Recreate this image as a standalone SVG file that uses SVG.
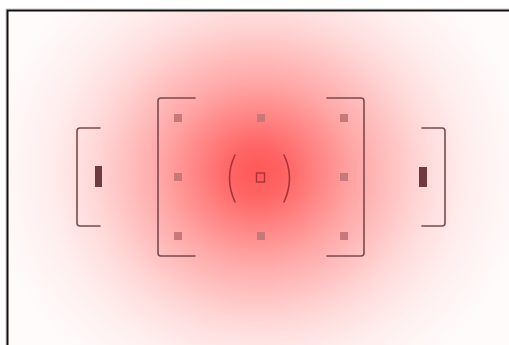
<svg xmlns="http://www.w3.org/2000/svg" width="509" height="345" viewBox="0 0 509 345">
<style>
.br{fill:none;stroke:#7a4a4e;stroke-width:1.6;stroke-linecap:round;stroke-linejoin:round}
.pt{fill:#c77878}
.bar{fill:#6e3c40}
.par{fill:none;stroke:#a8343a;stroke-width:1.6;stroke-linecap:round}
</style>
<defs>
<radialGradient id="glow" gradientUnits="userSpaceOnUse" cx="0" cy="0" r="1" gradientTransform="translate(258 172) scale(268 245)">
<stop offset="0" stop-color="#ff5858"/>
<stop offset="0.1" stop-color="#ff6464"/>
<stop offset="0.29" stop-color="#ff9494"/>
<stop offset="0.37" stop-color="#ffa8a8"/>
<stop offset="0.6" stop-color="#ffd5d5"/>
<stop offset="0.67" stop-color="#ffe0e0"/>
<stop offset="0.8" stop-color="#ffefef"/>
<stop offset="0.95" stop-color="#fff8f8"/>
<stop offset="1" stop-color="#fffbfb"/>
</radialGradient>
</defs>
<rect x="0" y="0" width="509" height="345" fill="#ffffff"/>
<rect x="8" y="11" width="501" height="334" fill="url(#glow)"/>
<path d="M6 345 V9 H509" fill="none" stroke="#c8c8c8" stroke-width="1"/>
<path d="M7.5 345 V10.5 H509" fill="none" stroke="#111111" stroke-width="2"/>
<g id="left-small">
<path class="br" d="M100 128 H80 Q77 128 77 131 V223 Q77 226 80 226 H100"/>
<rect class="bar" x="95" y="166" width="7" height="21"/>
</g>
<g id="left-big">
<path class="br" d="M195 98 H161 Q158 98 158 101 V253 Q158 256 161 256 H195"/>
</g>
<g id="right-big">
<path class="br" d="M327 98 H361 Q364 98 364 101 V253 Q364 256 361 256 H327"/>
</g>
<g id="right-small">
<path class="br" d="M422 128 H442 Q445 128 445 131 V223 Q445 226 442 226 H422"/>
<rect class="bar" x="419" y="167" width="8" height="20"/>
</g>
<g id="points">
<rect class="pt" x="174" y="114" width="8" height="8"/>
<rect class="pt" x="257" y="114" width="8" height="8"/>
<rect class="pt" x="340" y="114" width="8" height="8"/>
<rect class="pt" x="174" y="173" width="8" height="8"/>
<rect class="pt" x="340" y="173" width="8" height="8"/>
<rect class="pt" x="174" y="232" width="8" height="8"/>
<rect class="pt" x="257" y="232" width="8" height="8"/>
<rect class="pt" x="340" y="232" width="8" height="8"/>
</g>
<g id="center">
<path class="par" d="M235 155 Q224 178 235 202"/>
<path class="par" d="M284 155 Q295 178 284 202"/>
<rect x="256.5" y="173" width="8" height="9" fill="none" stroke="#a8343a" stroke-width="1.4"/>
</g>
<g id="connectors"></g>
</svg>
